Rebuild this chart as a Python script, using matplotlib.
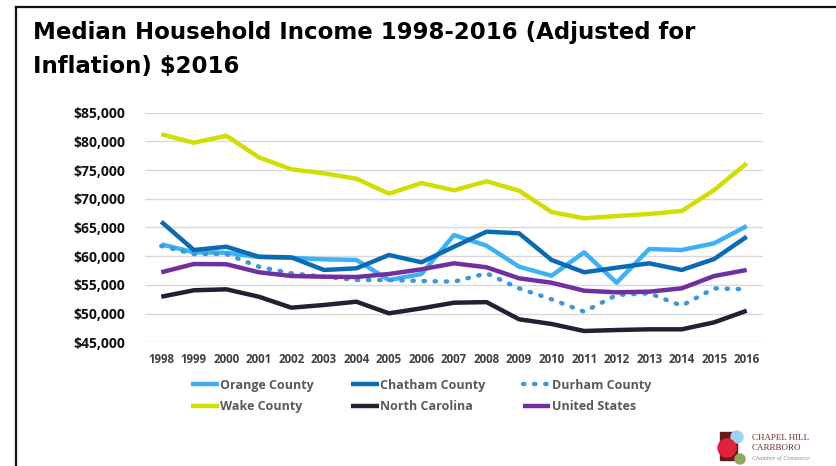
import matplotlib
matplotlib.use('Agg')
import matplotlib.pyplot as plt
from matplotlib.lines import Line2D
from matplotlib.patches import Rectangle, Ellipse

plt.rcParams['font.family'] = ['Open Sans', 'DejaVu Sans']

# ── Data ──
YEARS = [str(y) for y in range(1998, 2017)]
ORANGE = [62070, 60680, 60600, 59850, 59700, 59460, 59340, 55850, 56900, 63690,
          61830, 58170, 56600, 60680, 55380, 61250, 61080, 62250, 65260]
CHATHAM = [66010, 61080, 61650, 59910, 59800, 57600, 57890, 60210, 58940, 61650,
           64270, 63990, 59340, 57200, 58000, 58760, 57600, 59510, 63400]
DURHAM = [61780, 60380, 60380, 58170, 57020, 56430, 55850, 55850, 55680, 55560,
          57020, 54400, 52490, 50330, 53240, 53540, 51380, 54400, 54230]
WAKE = [81240, 79770, 80990, 77230, 75140, 74440, 73500, 70890, 72750, 71480,
        73050, 71410, 67700, 66600, 67000, 67350, 67880, 71530, 76180]
NC = [52940, 54060, 54230, 52940, 51030, 51500, 52070, 50050, 50920, 51900,
      52000, 49010, 48190, 46970, 47140, 47260, 47260, 48480, 50500]
US = [57200, 58640, 58600, 57200, 56550, 56430, 56380, 56900, 57720, 58760,
      58070, 56150, 55380, 53990, 53710, 53820, 54400, 56550, 57600]

SERIES = [
    ('Orange County', ORANGE, '#3DB1F7', '-'),
    ('Chatham County', CHATHAM, '#0A6BB5', '-'),
    ('Durham County', DURHAM, '#3E97D8', ':'),
    ('Wake County', WAKE, '#D2DE00', '-'),
    ('North Carolina', NC, '#1E2233', '-'),
    ('United States', US, '#7030A0', '-'),
]

W, H = 836, 466
fig = plt.figure(figsize=(8.36, 4.66), dpi=100)

# slide frame
fig.add_artist(Line2D([16/W, 16/W], [0, 1 - 7/H], color='#111111', lw=1.6))
fig.add_artist(Line2D([16/W, 1], [1 - 7/H, 1 - 7/H], color='#111111', lw=1.6))

title_font = ['DejaVu Sans']
fig.text(33/W, 1 - 33/H, 'Median Household Income 1998-2016 (Adjusted for',
         fontsize=16.5, fontweight='bold', family=title_font,
         va='center', ha='left', color='black')
fig.text(33/W, 1 - 66/H, 'Inflation) $2016',
         fontsize=16.5, fontweight='bold', family=title_font,
         va='center', ha='left', color='black')

ax = fig.add_axes([145/W, 1 - 342.3/H, 618/W, 229.6/H])
x = range(len(YEARS))
handles = {}
for name, vals, color, ls in SERIES:
    if ls == ':':
        h, = ax.plot(x, vals, color=color, lw=3.2, linestyle=(0, (0.3, 2.2)),
                     dash_capstyle='round', label=name, zorder=3)
    else:
        h, = ax.plot(x, vals, color=color, lw=3.2, solid_capstyle='butt', label=name, zorder=3)
    handles[name] = h

ax.set_xlim(-0.5, len(YEARS) - 0.5)
ax.set_ylim(45000, 85000)
ax.set_yticks(range(45000, 85001, 5000))
ax.set_yticklabels([f'${v:,}' for v in range(45000, 85001, 5000)],
                   fontsize=10, fontweight='bold', color='#111111')
ax.set_xticks(list(x))
ax.set_xticklabels(YEARS, fontsize=8.3, fontweight='bold', color='#404040')
ax.tick_params(length=0, axis='both')
ax.tick_params(axis='y', pad=14)
ax.tick_params(axis='x', pad=8)
ax.grid(True, axis='y', color='#D9D9D9', lw=1)
for s in ax.spines.values():
    s.set_visible(False)
ax.set_axisbelow(True)

# legend filled row-wise like the original (matplotlib fills by column)
order = ['Orange County', 'Wake County', 'Chatham County', 'North Carolina',
         'Durham County', 'United States']
leg = fig.legend([handles[n] for n in order], order,
                 loc='center', bbox_to_anchor=(421/W, 1 - 396/H), ncol=3,
                 frameon=False, handlelength=2.2, handletextpad=0.1,
                 columnspacing=3.0, labelspacing=0.7,
                 prop={'size': 9, 'weight': 'bold'})
for t in leg.get_texts():
    t.set_color('#595959')

# logo (bottom right)
fig.add_artist(Rectangle((720/W, 1 - 460/H), 17/W, 28/H, color='#6B1A1A', transform=fig.transFigure))
fig.add_artist(Ellipse((737/W, 1 - 437/H), 12/W, 12/H, color='#9ED4F2', transform=fig.transFigure))
fig.add_artist(Ellipse((727/W, 1 - 448/H), 18/W, 18/H, color='#E0223A', transform=fig.transFigure))
fig.add_artist(Ellipse((740/W, 1 - 459/H), 10/W, 10/H, color='#8FA85A', transform=fig.transFigure))
fig.text(752/W, 1 - 438/H, 'CHAPEL HILL', fontsize=6.5, family=['Liberation Serif', 'DejaVu Serif'],
         color='#7A2A2A', va='center')
fig.text(752/W, 1 - 448/H, 'CARRBORO', fontsize=6.5, family=['Liberation Serif', 'DejaVu Serif'],
         color='#7A2A2A', va='center')
fig.text(752/W, 1 - 458/H, 'Chamber of Commerce', fontsize=4.5, style='italic',
         family=['Liberation Serif', 'DejaVu Serif'], color='#9A8A7A', va='center')

fig.savefig('out.png', dpi=100)
